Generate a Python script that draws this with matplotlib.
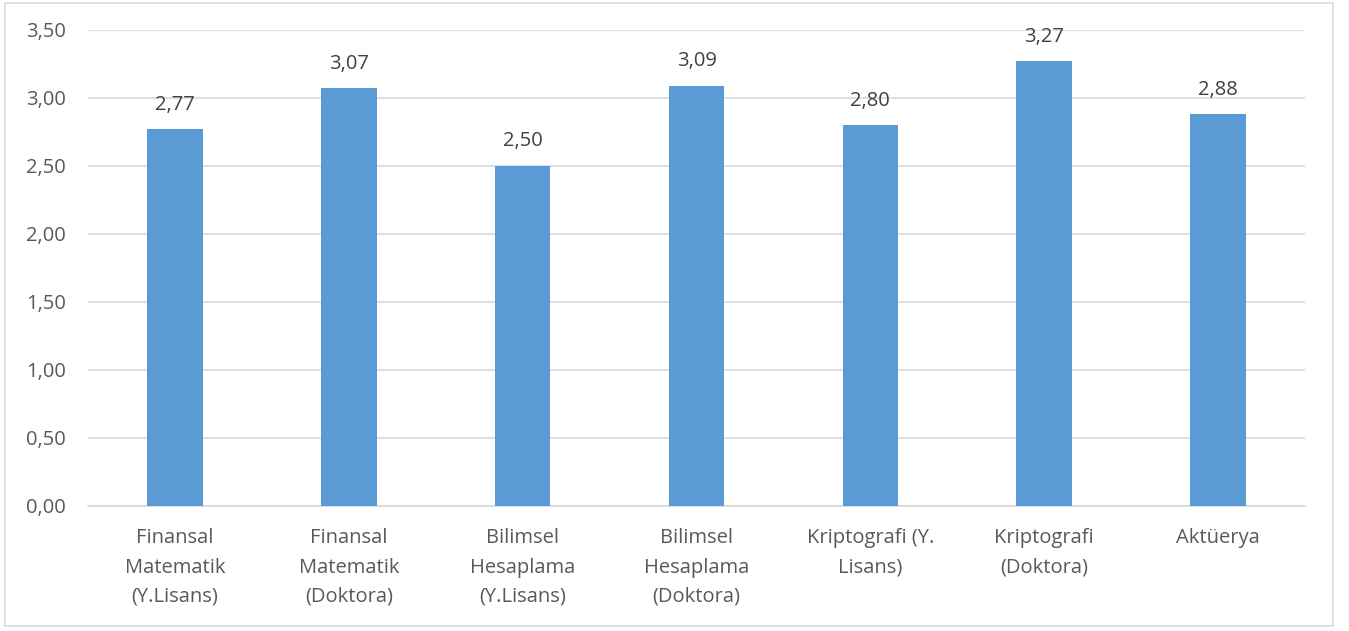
import matplotlib
matplotlib.use("Agg")
import matplotlib.pyplot as plt
from matplotlib.patches import Rectangle

categories = [
    "Finansal\nMatematik\n(Y.Lisans)",
    "Finansal\nMatematik\n(Doktora)",
    "Bilimsel\nHesaplama\n(Y.Lisans)",
    "Bilimsel\nHesaplama\n(Doktora)",
    "Kriptografi (Y.\nLisans)",
    "Kriptografi\n(Doktora)",
    "Aktüerya",
]
values = [2.77, 3.07, 2.50, 3.09, 2.80, 3.27, 2.88]
yticks = [0.0, 0.5, 1.0, 1.5, 2.0, 2.5, 3.0, 3.5]

plt.rcParams["font.family"] = ["Open Sans", "DejaVu Sans"]

W, H = 1349, 631
fig = plt.figure(figsize=(W / 100, H / 100), dpi=100)
ax = fig.add_axes([88 / W, 1 - 506 / H, (1305 - 88) / W, (506 - 30) / H])

bar_color = "#5B9BD5"
x = list(range(len(values)))
ax.bar(x, values, width=0.32, color=bar_color, zorder=3)

for xi, v in zip(x, values):
    ax.annotate(f"{v:.2f}".replace(".", ","), (xi, v), xytext=(0, 10.5),
                textcoords="offset points", ha="center", va="bottom",
                fontsize=14.5, color="#404040")

ax.set_xlim(-0.5, len(values) - 0.5)
ax.set_ylim(0, 3.5)
ax.set_yticks(yticks)
ax.set_yticklabels([f"{t:.2f}".replace(".", ",") for t in yticks])
ax.set_xticks(x)
ax.set_xticklabels(categories, linespacing=1.62)

ax.grid(axis="y", color="#D9D9D9", linewidth=1.2, zorder=0)
for s in ["top", "right", "left"]:
    ax.spines[s].set_visible(False)
ax.spines["bottom"].set_color("#D9D9D9")
ax.spines["bottom"].set_linewidth(1.2)
ax.tick_params(axis="both", length=0, labelsize=14.5, colors="#595959")
ax.tick_params(axis="x", pad=16)
ax.tick_params(axis="y", pad=16)

fig.patches.append(Rectangle((5 / W, 1 - 626 / H), (1333 - 5) / W, (626 - 3) / H,
                             transform=fig.transFigure, fill=False,
                             edgecolor="#D9D9D9", linewidth=1.2))

fig.savefig("out.png", dpi=100, facecolor="white")
